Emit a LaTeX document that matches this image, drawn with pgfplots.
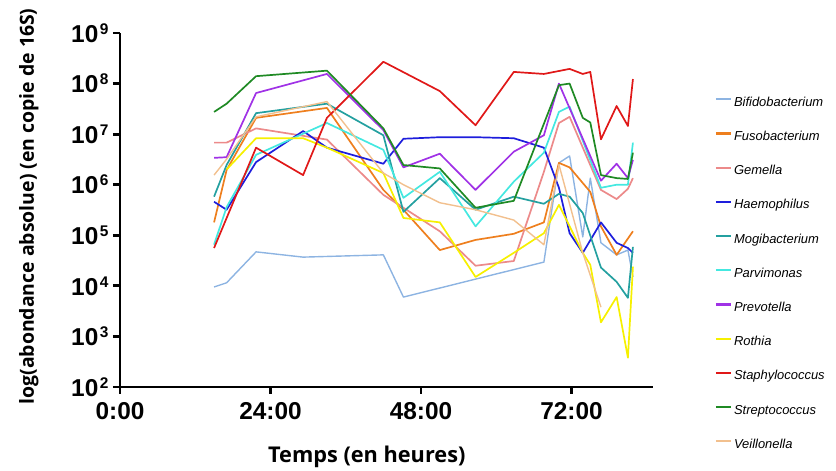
\documentclass[border=0pt]{standalone}
\usepackage{fontspec}
\setmainfont{Liberation Sans}
\newfontfamily\osans{Open Sans}
\usepackage{pgfplots}
\pgfplotsset{compat=1.18}
\definecolor{cBifi}{HTML}{8DB4E2}
\definecolor{cFuso}{HTML}{EE7F1E}
\definecolor{cGeme}{HTML}{EC8A8A}
\definecolor{cHaem}{HTML}{1E1EDC}
\definecolor{cMogi}{HTML}{24A0A0}
\definecolor{cParv}{HTML}{44E8E0}
\definecolor{cPrev}{HTML}{A032E6}
\definecolor{cRoth}{HTML}{F6F000}
\definecolor{cStap}{HTML}{E01818}
\definecolor{cStre}{HTML}{1F8A24}
\definecolor{cVeil}{HTML}{F2C08E}
\newcommand\ex[1]{\kern1.5bp\raisebox{8bp}{\fontsize{15.5}{15}\selectfont #1}}
\begin{document}
\begin{tikzpicture}
\path[use as bounding box] (-120bp,-84bp) rectangle (716bp,387bp);
\begin{axis}[
  scale only axis, width=533bp, height=354bp,
  at={(0,0)}, anchor=south west,
  ymode=log, ymin=1e2, ymax=1e9, xmin=0, xmax=85,
  axis x line*=bottom, axis y line*=left,
  axis line style={line width=2.8bp, black},
  xtick={0,24,48,72}, xticklabels={0:00,24:00,48:00,72:00},
  ytick={1e2,1e3,1e4,1e5,1e6,1e7,1e8,1e9},
  yticklabels={10\ex{2},10\ex{3},10\ex{4},10\ex{5},10\ex{6},10\ex{7},10\ex{8},10\ex{9}},
  yminorticks=false, xminorticks=false,
  tick align=outside, major tick length=7bp,
  every tick/.style={black, line width=2.8bp},
  tick label style={font=\bfseries\fontsize{24.5}{28}\selectfont},
  xticklabel style={yshift=-5bp},
  yticklabel style={xshift=-1bp},
  ylabel={log(abondance absolue) (en copie de 16S)},
  ylabel style={font=\osans\bfseries\fontsize{19.5}{22}\selectfont, at={(axis description cs:-0.171,0.51)}, anchor=center},
  xlabel={Temps (en heures)},
  xlabel style={font=\osans\bfseries\fontsize{21.8}{24}\selectfont, at={(axis description cs:0.463,0)}, anchor=center, yshift=-70bp},
  legend style={at={(axis description cs:1.11,0.833)}, anchor=north west, draw=none, fill=none,
    font=\fontsize{13}{15}\selectfont\itshape, row sep=17.2bp,
    nodes={text height=10bp, text depth=3bp, inner sep=2bp}},
  legend cell align=left,
  legend image code/.code={\draw[#1, line width=2.2bp] (0bp,3.5bp) -- (15bp,3.5bp);},
  every axis plot/.append style={line width=1.7bp, line join=round},
]
\addplot[cBifi, line width=1.4bp] coordinates {(15,9.5e3)(17,1.15e4)(21.7,4.7e4)(29.2,3.7e4)(42,4.1e4)(45.2,6.0e3)(67.6,2.95e4)(70,2.7e6)(71.7,3.7e6)(73.8,9.3e4)(75,1.35e6)(76.7,7.1e4)(79.2,4.1e4)(81,5.1e4)(81.8,1.5e4)};
\addlegendentry{Bifidobacterium}
\addplot[cFuso] coordinates {(15,1.8e5)(17,1.95e6)(21.7,2.1e7)(33,3.3e7)(42,7.9e5)(45.2,3.2e5)(51,5.1e4)(56.7,8.1e4)(62.8,1.07e5)(67.6,1.8e5)(70,2.7e6)(71.7,2.2e6)(75,7.2e5)(76.7,1.5e5)(79.2,4.1e4)(81.8,1.2e5)};
\addlegendentry{Fusobacterium}
\addplot[cGeme] coordinates {(15,6.8e6)(17,6.8e6)(21.7,1.3e7)(33,7.8e6)(42,6.3e5)(45.2,3.5e5)(51,1.2e5)(56.7,2.5e4)(62.8,3.1e4)(67.6,1.8e6)(70,1.66e7)(71.7,2.2e7)(76.7,7.9e5)(79.2,5.2e5)(81,8.3e5)(81.8,1.35e6)};
\addlegendentry{Gemella}
\addplot[cHaem] coordinates {(15,4.6e5)(17,3.2e5)(21.7,2.8e6)(29.2,1.15e7)(33,5.4e6)(42,2.6e6)(45.2,8.1e6)(51,8.7e6)(56.7,8.7e6)(62.8,8.3e6)(67.6,5.4e6)(70,8.7e5)(71.7,1.1e5)(73.8,4.5e4)(76.7,1.8e5)(79.2,7.1e4)(81,5.6e4)(81.8,4.5e4)};
\addlegendentry{Haemophilus}
\addplot[cMogi] coordinates {(15,5.8e5)(17,2.45e6)(21.7,2.6e7)(33,4.0e7)(42,9.5e6)(45.2,2.9e5)(51,1.35e6)(56.7,3.2e5)(62.8,5.8e5)(67.6,4.2e5)(70,6.6e5)(71.7,5.8e5)(73.8,2.75e5)(76.7,2.3e4)(79.2,1.2e4)(81,5.8e3)(81.8,5.9e4)};
\addlegendentry{Mogibacterium}
\addplot[cParv] coordinates {(15,6.5e4)(17,3.6e5)(21.7,3.9e6)(33,1.66e7)(42,4.9e6)(45.2,5.5e5)(51,1.8e6)(56.7,1.5e5)(62.8,1.15e6)(67.6,4.3e6)(70,2.75e7)(71.7,3.5e7)(76.7,8.7e5)(79.2,1.0e6)(81,1.0e6)(81.8,6.8e6)};
\addlegendentry{Parvimonas}
\addplot[cPrev] coordinates {(15,3.4e6)(17,3.5e6)(21.7,6.5e7)(33,1.55e8)(42,1.2e7)(45.2,2.2e6)(51,4.1e6)(56.7,7.9e5)(62.8,4.5e6)(67.6,9.5e6)(70,1.0e8)(76.7,1.2e6)(79.2,2.6e6)(81,1.35e6)(81.8,3.1e6)};
\addlegendentry{Prevotella}
\addplot[cRoth] coordinates {(17,2.0e6)(21.7,8.3e6)(29.2,8.3e6)(33,5.4e6)(42,1.7e6)(45.2,2.2e5)(51,1.8e5)(56.7,1.5e4)(62.8,4.5e4)(67.6,1.1e5)(70,4.0e5)(73.8,4.5e4)(75,2.6e4)(76.7,1.9e3)(79.2,6.0e3)(81,3.8e2)(81.8,2.4e4)};
\addlegendentry{Rothia}
\addplot[cStap] coordinates {(15,5.6e4)(21.7,5.4e6)(29.2,1.55e6)(33,2.1e7)(42,2.7e8)(51,7.1e7)(56.7,1.5e7)(62.8,1.7e8)(67.6,1.55e8)(71.7,1.95e8)(73.8,1.55e8)(75,1.7e8)(76.7,7.9e6)(79.2,3.6e7)(81,1.45e7)(81.8,1.23e8)};
\addlegendentry{Staphylococcus}
\addplot[cStre] coordinates {(15,2.75e7)(17,4.0e7)(21.7,1.4e8)(33,1.8e8)(42,1.3e7)(45.2,2.45e6)(51,2.1e6)(56.7,3.5e5)(62.8,4.8e5)(70,9.3e7)(71.7,1.0e8)(73.8,2.1e7)(75,1.7e7)(76.7,1.55e6)(79.2,1.35e6)(81,1.3e6)(81.8,4.3e6)};
\addlegendentry{Streptococcus}
\addplot[cVeil, line width=1.4bp] coordinates {(15,1.55e6)(17,3.2e6)(21.7,2.2e7)(33,4.4e7)(42,1.7e6)(45.2,1.0e6)(51,4.4e5)(56.7,3.2e5)(62.8,2.0e5)(67.6,6.5e4)(70,2.5e6)(73.8,4.5e4)(76.7,3.8e3)};
\addlegendentry{Veillonella}
\end{axis}
\end{tikzpicture}
\end{document}
